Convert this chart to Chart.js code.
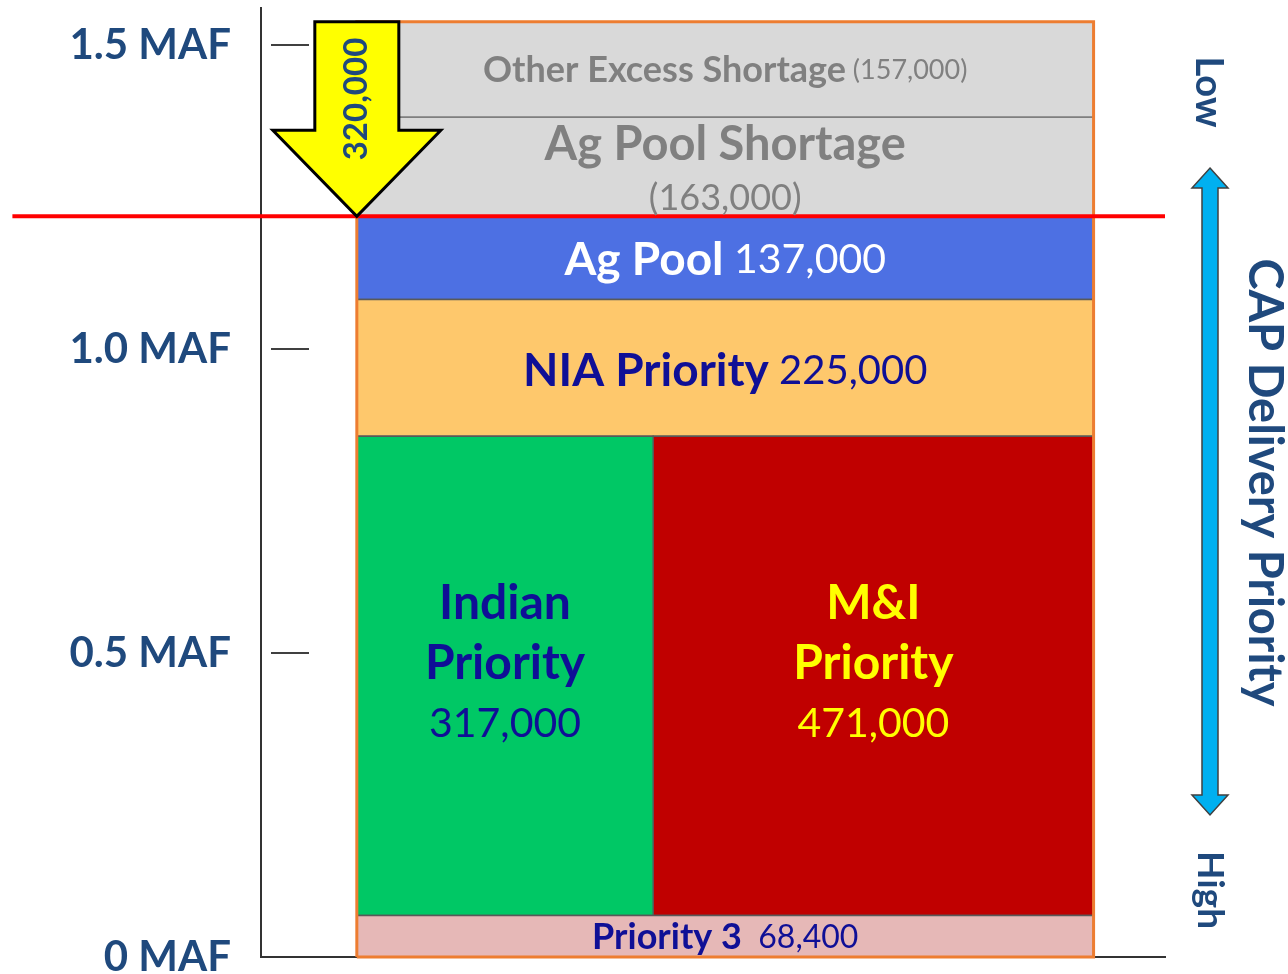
<!DOCTYPE html>
<html>
<head>
<meta charset="utf-8">
<script src="https://cdn.jsdelivr.net/npm/chart.js@4.4.1/dist/chart.umd.min.js"></script>
<style>
    html, body { margin: 0; padding: 0; background: #fff; }
    #wrap { width: 1288px; height: 974px; }
</style>
</head>
<body>
<div id="wrap"><canvas id="capChart"></canvas></div>
<script>
// CAP delivery pools, stacked from the bottom (acre-feet)
const poolNames = ['Priority 3', 'Indian Priority', 'M&I Priority', 'NIA Priority', 'Ag Pool', 'Ag Pool Shortage', 'Other Excess Shortage'];
const poolValues = [68400, 317000, 471000, 225000, 137000, 163000, 157000];
// pools sharing a row sit side by side (Indian and M&I)
const poolRow = [0, 1, 1, 2, 3, 4, 5];
const shortagePools = [5, 6];

const tickValues = [0, 0.5, 1.0, 1.5];
const tickLabels = ['0 MAF', '0.5 MAF', '1.0 MAF', '1.5 MAF'];

const poolColors = ['#e6b8b7', '#00c865', '#c00000', '#fec86c', '#4d70e3', '#d9d9d9', '#d9d9d9'];
const poolEdges = ['#595959', '#595959', '#595959', '#595959', '#595959', '#7f7f7f', '#7f7f7f'];

const MAF = 1000000;
const Y_MAX = 1.561;
const BOX_LEFT = 0.106;
const BOX_RIGHT = 0.921;
const RED_FROM = -0.275;

const NAVY = '#0f0f96';
const GRAY = '#808080';
const AXIS_BLUE = '#1f497d';
const FONT = 'Lato, "Open Sans", sans-serif';

const fmt = v => v.toLocaleString('en-US');

// build rectangles row by row
const rects = [];
let level = 0;
const rowCount = Math.max(...poolRow) + 1;
for (let row = 0; row < rowCount; row++) {
    const members = poolRow.map((r, i) => r === row ? i : -1).filter(i => i >= 0);
    const rowSum = members.reduce((s, i) => s + poolValues[i], 0);
    let x = BOX_LEFT;
    members.forEach(i => {
        const w = (BOX_RIGHT - BOX_LEFT) * poolValues[i] / rowSum;
        rects[i] = { x0: x, x1: x + w, y0: level, y1: level + rowSum / MAF };
        x += w;
    });
    level += rowSum / MAF;
}
const grandTotal = level;
const shortage = shortagePools.reduce((s, i) => s + poolValues[i], 0);
const delivered = grandTotal - shortage / MAF;

const box = r => [
    { x: r.x0, y: r.y0 }, { x: r.x1, y: r.y0 }, { x: r.x1, y: r.y1 },
    { x: r.x0, y: r.y1 }, { x: r.x0, y: r.y0 }
];

const datasets = rects.map((r, i) => ({
    label: poolNames[i],
    data: box(r),
    showLine: true,
    fill: 'shape',
    backgroundColor: poolColors[i],
    borderColor: poolEdges[i],
    borderWidth: 1.5,
    pointRadius: 0,
    order: 2,
    clip: false
}));

// orange outline round the whole stack
datasets.push({
    label: 'frame',
    data: box({ x0: BOX_LEFT, x1: BOX_RIGHT, y0: 0, y1: grandTotal }),
    showLine: true,
    fill: false,
    borderColor: '#ed7d31',
    borderWidth: 3,
    borderJoinStyle: 'miter',
    pointRadius: 0,
    order: 1,
    clip: false
});

// delivery line
datasets.push({
    label: 'delivery',
    data: [{ x: RED_FROM, y: delivered }, { x: 1, y: delivered }],
    showLine: true,
    fill: false,
    borderColor: '#ff0000',
    borderWidth: 4,
    pointRadius: 0,
    order: 0,
    clip: false
});

// text inside each pool
const B = size => `bold ${size}px ${FONT}`;
const R = size => `${size}px ${FONT}`;
const poolText = [
    { lines: [[['Priority 3', B(36)], ['  ' + fmt(poolValues[0]), R(32)]]], color: NAVY, dy: 1 },
    { lines: [[['Indian', B(48)]], [['Priority', B(48)]], [[fmt(poolValues[1]), R(41)]]], color: NAVY, dy: -12, gap: 60 },
    { lines: [[['M&I', B(48)]], [['Priority', B(48)]], [[fmt(poolValues[2]), R(41)]]], color: '#ffff00', dy: -12, gap: 60 },
    { lines: [[['NIA Priority', B(46)], [' ' + fmt(poolValues[3]), R(40)]]], color: NAVY, dy: 3 },
    { lines: [[['Ag Pool', B(46)], [' ' + fmt(poolValues[4]), R(41)]]], color: '#ffffff', dy: 2 },
    { lines: [[['Ag Pool Shortage', B(47)]], [['(' + fmt(poolValues[5]) + ')', R(36)]]], color: GRAY, dy: 5, gap: 54 },
    { lines: [[['Other Excess Shortage', B(36)], [' (' + fmt(poolValues[6]) + ')', R(27)]]], color: GRAY, dy: 1 }
];

function drawRuns(ctx, runs, cx, cy, color) {
    let total = 0;
    const widths = runs.map(([text, font]) => {
        ctx.font = font;
        const w = ctx.measureText(text).width;
        total += w;
        return w;
    });
    let x = cx - total / 2;
    runs.forEach(([text, font], k) => {
        ctx.font = font;
        ctx.fillStyle = color;
        ctx.fillText(text, x, cy);
        x += widths[k];
    });
}

function polygon(ctx, pts, fill, stroke, lw) {
    ctx.beginPath();
    pts.forEach(([x, y], k) => k ? ctx.lineTo(x, y) : ctx.moveTo(x, y));
    ctx.closePath();
    ctx.fillStyle = fill;
    ctx.fill();
    ctx.lineWidth = lw;
    ctx.strokeStyle = stroke;
    ctx.lineJoin = 'miter';
    ctx.stroke();
}

function rotatedText(ctx, text, font, color, x, y, angle) {
    ctx.save();
    ctx.translate(x, y);
    ctx.rotate(angle);
    ctx.font = font;
    ctx.fillStyle = color;
    ctx.textAlign = 'center';
    ctx.textBaseline = 'middle';
    ctx.fillText(text, 0, 0);
    ctx.restore();
}

const decorations = {
    id: 'decorations',
    afterDatasetsDraw(chart) {
        const { ctx, chartArea } = chart;
        const xs = chart.scales.x;
        const ys = chart.scales.y;
        ctx.save();

        // tick marks sit just right of the axis line
        ctx.strokeStyle = '#404040';
        ctx.lineWidth = 2;
        tickValues.forEach(v => {
            if (v === 0) return;
            const y = Math.round(ys.getPixelForValue(v));
            ctx.beginPath();
            ctx.moveTo(chartArea.left + 10, y);
            ctx.lineTo(chartArea.left + 48, y);
            ctx.stroke();
        });

        // pool labels
        ctx.textBaseline = 'middle';
        ctx.textAlign = 'left';
        rects.forEach((r, i) => {
            const spec = poolText[i];
            const cx = (xs.getPixelForValue(r.x0) + xs.getPixelForValue(r.x1)) / 2;
            const cy = (ys.getPixelForValue(r.y0) + ys.getPixelForValue(r.y1)) / 2 + spec.dy;
            const n = spec.lines.length;
            spec.lines.forEach((runs, k) => {
                const y = cy + (k - (n - 1) / 2) * (spec.gap || 0);
                drawRuns(ctx, runs, cx, y, spec.color);
            });
        });

        // yellow shortage arrow, from the full stack down to the delivery line
        const ax = xs.getPixelForValue(BOX_LEFT);
        const top = ys.getPixelForValue(grandTotal);
        const tip = ys.getPixelForValue(delivered);
        const headY = tip - 86;
        polygon(ctx, [
            [ax - 42, top], [ax + 42, top], [ax + 42, headY], [ax + 84, headY],
            [ax, tip], [ax - 84, headY], [ax - 42, headY]
        ], '#ffff00', '#000000', 3);
        rotatedText(ctx, fmt(shortage), B(33), AXIS_BLUE, ax, (top + tip) / 2 - 20, -Math.PI / 2);

        // priority double arrow on the right
        const bx = chartArea.right + 45;
        const aTop = 168, aBot = 815, shaft = 8, head = 18, headH = 20;
        polygon(ctx, [
            [bx, aTop], [bx + head, aTop + headH], [bx + shaft, aTop + headH],
            [bx + shaft, aBot - headH], [bx + head, aBot - headH], [bx, aBot],
            [bx - head, aBot - headH], [bx - shaft, aBot - headH],
            [bx - shaft, aTop + headH], [bx - head, aTop + headH]
        ], '#00b0f0', '#404040', 1.5);
        rotatedText(ctx, 'Low', B(38), AXIS_BLUE, bx - 2, 92, Math.PI / 2);
        rotatedText(ctx, 'High', B(37), AXIS_BLUE, bx, 890, Math.PI / 2);

        ctx.restore();
    }
};

const noPad = scale => {
    scale.paddingTop = 0;
    scale.paddingBottom = 0;
    scale.paddingLeft = 0;
    scale.paddingRight = 0;
};

new Chart(document.getElementById('capChart'), {
    type: 'scatter',
    data: { datasets },
    options: {
        responsive: true,
        maintainAspectRatio: false,
        animation: false,
        events: [],
        layout: { padding: { top: 8, left: 0, right: 0, bottom: 0 } },
        plugins: {
            legend: { display: false },
            tooltip: { enabled: false }
        },
        scales: {
            x: {
                type: 'linear',
                min: 0,
                max: 1,
                ticks: { display: false },
                grid: { display: false, drawTicks: false },
                border: { color: '#333333', width: 2 },
                afterFit: scale => { noPad(scale); scale.height = 17; }
            },
            y: {
                position: 'left',
                min: 0,
                max: Y_MAX,
                afterBuildTicks: scale => { scale.ticks = tickValues.map(v => ({ value: v })); },
                ticks: {
                    callback: (v, i) => tickLabels[i],
                    color: AXIS_BLUE,
                    font: { family: FONT, size: 42, weight: 'bold' },
                    padding: 30
                },
                grid: { display: false, drawTicks: false },
                border: { color: '#333333', width: 2 },
                afterFit: scale => { noPad(scale); scale.width = 261; }
            },
            y2: {
                position: 'right',
                min: 0,
                max: Y_MAX,
                ticks: { display: false },
                grid: { display: false, drawTicks: false },
                border: { display: false },
                title: {
                    display: true,
                    text: 'CAP Delivery Priority',
                    color: AXIS_BLUE,
                    font: { family: FONT, size: 47, weight: 'bold', lineHeight: 1 },
                    padding: 0
                },
                afterFit: scale => { noPad(scale); scale.width = 123; }
            }
        }
    },
    plugins: [decorations]
});
</script>
</body>
</html>
